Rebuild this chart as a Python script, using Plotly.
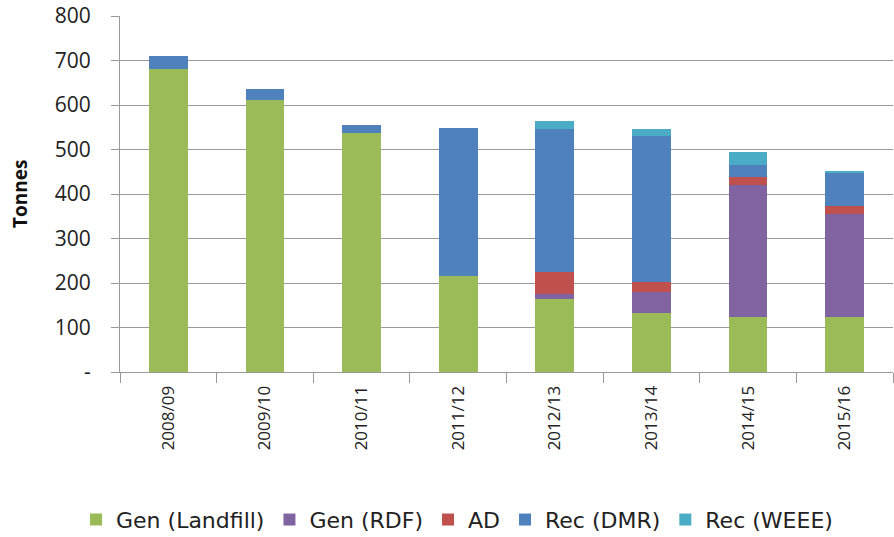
import plotly.graph_objects as go

categories = ["2008/09", "2009/10", "2010/11", "2011/12", "2012/13", "2013/14", "2014/15", "2015/16"]
gen_landfill = [680, 611, 536, 215, 164, 133, 124, 124]
gen_rdf = [0, 0, 0, 0, 12, 46, 296, 230]
ad = [0, 0, 0, 0, 49, 23, 18, 20]
rec_dmr = [30, 24, 18, 333, 320, 329, 27, 73]
rec_weee = [0, 0, 0, 0, 20, 16, 30, 5]

series = [
    ("Gen (Landfill)", gen_landfill, "#9BBB59"),
    ("Gen (RDF)", gen_rdf, "#8064A2"),
    ("AD", ad, "#C0504D"),
    ("Rec (DMR)", rec_dmr, "#4F81BD"),
    ("Rec (WEEE)", rec_weee, "#4BACC6"),
]

y_tickvals = [0, 100, 200, 300, 400, 500, 600, 700, 800]
y_ticktext = ["-", "100", "200", "300", "400", "500", "600", "700", "800"]

fig = go.Figure()
for name, vals, color in series:
    fig.add_trace(go.Bar(x=categories, y=vals, name=name,
                         marker=dict(color=color, line=dict(width=0))))

font_family = "Open Sans, Liberation Sans, sans-serif"
fig.update_layout(
    barmode="stack",
    bargap=0.6,
    width=894, height=537,
    margin=dict(l=120, r=1, t=16, b=165, autoexpand=False),
    plot_bgcolor="white", paper_bgcolor="white",
    font=dict(family=font_family, size=17, color="#222"),
    legend=dict(orientation="h", x=0.436, xanchor="center", y=-0.415, yanchor="middle",
                font=dict(size=22, family="DejaVu Sans, sans-serif"), itemwidth=30,
                traceorder="normal"),
    xaxis=dict(type="category", showline=True, linecolor="#999", linewidth=1,
               ticks="outside", tickson="boundaries", ticklen=10, tickcolor="#999",
               tickangle=-90, tickfont=dict(size=17), showgrid=False,
               ticklabelstandoff=6),
    yaxis=dict(range=[0, 800], tickvals=y_tickvals, ticktext=y_ticktext,
               showline=True, linecolor="#999", linewidth=1,
               ticks="outside", ticklen=8, tickcolor="#999",
               showgrid=True, gridcolor="#999", gridwidth=1,
               tickfont=dict(size=21), ticklabelstandoff=16),
    annotations=[dict(text="<b>Tonnes</b>", textangle=-90, xref="paper", yref="paper",
                      x=(20 - 120) / 773, y=0.5, xanchor="center", yanchor="middle",
                      showarrow=False, font=dict(size=19, color="#111"))],
)

fig.write_html("out.html", config={"displayModeBar": False},
               post_script="document.body.style.margin='0';")
